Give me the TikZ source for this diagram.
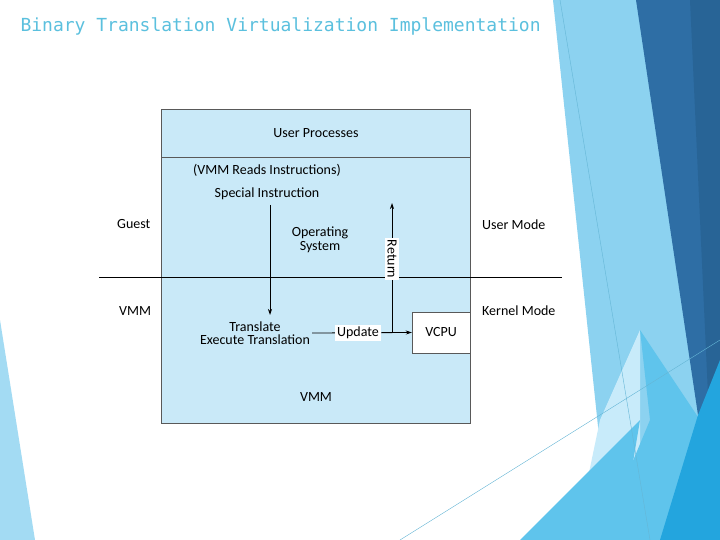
\documentclass[tikz,border=0pt]{standalone}
\usepackage{fontspec}
\setmainfont{Carlito}
\newfontfamily\titlefont{DejaVu Sans Mono}
\usetikzlibrary{arrows.meta}
\definecolor{dkb}{RGB}{46,110,165}
\definecolor{dkb2}{RGB}{40,100,150}
\definecolor{ltb}{RGB}{140,210,240}
\definecolor{mdb}{RGB}{95,196,236}
\definecolor{btb}{RGB}{35,165,222}
\definecolor{pale}{RGB}{200,235,250}
\definecolor{ttl}{RGB}{91,192,222}
\begin{document}
\begin{tikzpicture}[x=1pt,y=-1pt,
  lbl/.style={font=\fontsize{14}{15.5}\selectfont, inner sep=1pt, align=center},
  wlbl/.style={lbl, fill=white, inner sep=2pt},
  arr/.style={draw=black, line width=0.8pt, -{Stealth[length=6pt,width=4pt]}}]
\useasboundingbox (0,0) rectangle (720,540);
\fill[white] (0,0) rectangle (720,540);
% decoration
\fill[ltb] (553,0) -- (640,0) -- (700,420) -- (650,540) -- (610,540) -- cycle;
\fill[dkb] (636,0) -- (720,0) -- (720,380) -- (698,415) -- cycle;
\fill[dkb2] (690,0) -- (720,0) -- (720,380) -- (708,395) -- cycle;
\fill[pale] (640,330) -- (600,420) -- (575,540) -- (640,540) -- cycle;
\fill[mdb] (640,330) -- (700,420) -- (720,380) -- (720,540) -- (600,540) -- (650,420) -- cycle;
\fill[btb] (720,360) -- (720,540) -- (660,540) -- (698,415) -- cycle;
\fill[mdb] (520,540) -- (640,420) -- (620,540) -- cycle;
\fill[ltb!80!white] (0,320) -- (35,540) -- (0,540) -- cycle;
\draw[mdb!80!gray, line width=0.4pt] (560,0) -- (650,540);
\draw[mdb!80!gray, line width=0.4pt] (400,540) -- (720,340);
% title
\node[anchor=west, text=ttl, font=\titlefont\fontsize{18}{20}\selectfont] (title) at (17,26) {Binary Translation Virtualization Implementation};
% diagram
\draw[fill={rgb,255:red,201;green,233;blue,248}, draw=gray!70!black, line width=0.6pt] (161,109) rectangle (470,423);
\draw[gray!70!black, line width=0.6pt] (161,157) -- (470,157);
\draw[black, line width=0.9pt] (99,277) -- (562,277);
\node[draw=gray!70!black, fill=white, minimum width=58pt, minimum height=41pt, lbl] (vcpu) at (441,332.5) {VCPU};
\node[lbl] (up) at (316,133) {User Processes};
\node[lbl] (reads) at (267,170) {(VMM Reads Instructions)};
\node[lbl] (spec) at (267,194) {Special Instruction};
\node[lbl] (os) at (320,240) {Operating\\[-2pt]System};
\node[lbl] (trans) at (255,333) {Translate\\[-2pt]Execute Translation};
\node[lbl] (vmm) at (316,397) {VMM};
\node[lbl, anchor=west] (guest) at (116,224) {Guest};
\node[lbl, anchor=west] (vmml) at (118,311) {VMM};
\node[lbl, anchor=west] (um) at (481,225) {User Mode};
\node[lbl, anchor=west] (km) at (481,311) {Kernel Mode};
\coordinate (sd) at (270,205);
\coordinate (sdend) at (270,315);
\draw[arr] (sd) -- (sdend);
\coordinate (tstart) at (312,333);
\draw[arr] (tstart) -- (vcpu.west);
\coordinate (rb) at (392,333);
\coordinate (rt) at (392,203);
\draw[arr] (rb) -- (rt);
\node[wlbl] (upd) at (358,333) {Update};
\node[wlbl, rotate=-90] (ret) at (392,259) {Return};
\end{tikzpicture}
\end{document}
